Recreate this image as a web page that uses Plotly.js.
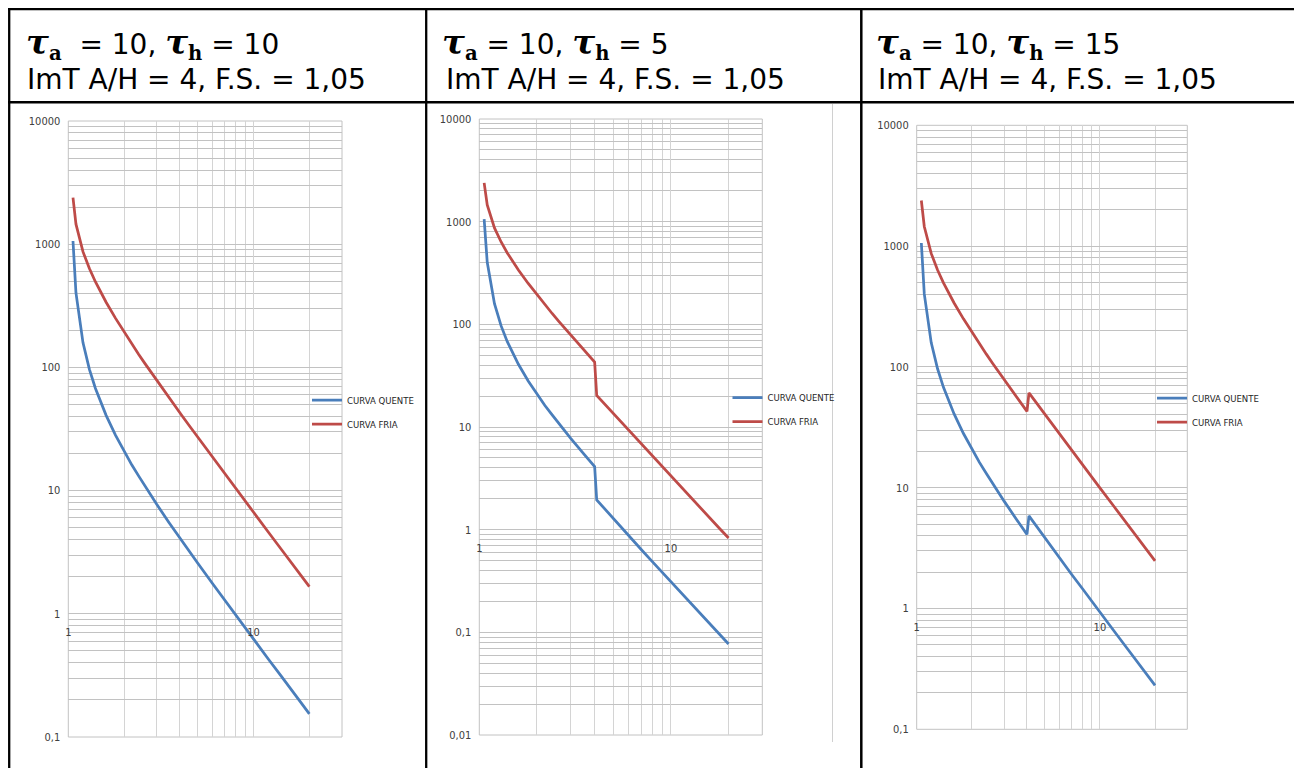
<!DOCTYPE html>
<html><head><meta charset="utf-8">
<script src="https://cdn.plot.ly/plotly-3.0.1.min.js"></script>
<style>html,body{margin:0;padding:0;background:#fff}#chart{width:1294px;height:768px}</style>
</head><body><div id="chart"></div>
<script>
// ---- data ----
const current = [1.06,1.1,1.2,1.3,1.4,1.5,1.6,1.8,2,2.2,2.4,2.6,2.8,3,3.5,4,4.1,4.5,5,6,7,8,9,10,12,14,16,18,20];

// panel 1: tau_a = 10, tau_h = 10
const hotT10  = [1061,402,159,96.5,67.7,51.3,40.8,28.1,20.9,16.2,13.1,10.8,9.06,7.74,5.49,4.11,3.90,3.20,2.57,1.76,1.28,0.977,0.769,0.622,0.430,0.316,0.241,0.191,0.154];
const coldT10 = [2385,1453,870,634,496,404,338,250,193.5,155,127.5,106.8,90.9,78.4,56.6,42.8,40.7,33.6,27.1,18.7,13.7,10.4,8.22,6.65,4.61,3.39,2.59,2.05,1.66];
// panel 2: tau_a = 10, tau_h = 5
const hotT5   = [1061,402,159,96.5,67.7,51.3,40.8,28.1,20.9,16.2,13.1,10.8,9.06,7.74,5.49,4.11,1.95,1.60,1.28,0.880,0.641,0.488,0.385,0.311,0.215,0.158,0.121,0.095,0.077];
const coldT5  = [2385,1453,870,634,496,404,338,250,193.5,155,127.5,106.8,90.9,78.4,56.6,42.8,20.3,16.8,13.5,9.33,6.83,5.21,4.11,3.33,2.31,1.69,1.30,1.02,0.83];
// panel 3: tau_a = 10, tau_h = 15
const hotT15  = [1061,402,159,96.5,67.7,51.3,40.8,28.1,20.9,16.2,13.1,10.8,9.06,7.74,5.49,4.11,5.85,4.80,3.85,2.64,1.92,1.47,1.15,0.93,0.645,0.473,0.362,0.286,0.231];
const coldT15 = [2385,1453,870,634,496,404,338,250,193.5,155,127.5,106.8,90.9,78.4,56.6,42.8,61.0,50.4,40.6,28.0,20.5,15.6,12.3,9.98,6.92,5.08,3.88,3.07,2.48];

const seriesNames = ['CURVA QUENTE','CURVA FRIA'];
const seriesColors = ['#4A7EBB','#BE4B48'];

const xTickVals = [1,10];
const xTickText = ['1','10'];
const xMinorVals = [2,3,4,5,6,7,8,9,20,30];
const yDecadesA = [0.1,1,10,100,1000,10000];
const yDecadeTextA = ['0,1','1','10','100','1000','10000'];
const yDecadesB = [0.01,0.1,1,10,100,1000,10000];
const yDecadeTextB = ['0,01','0,1','1','10','100','1000','10000'];

const tauA = ['10','10','10'];
const tauH = ['10','5','15'];
const headerLine2 = 'ImT A/H = 4, F.S. = 1,05';

// ---- layout helpers ----
const W = 1294, H = 768;
const px = v => v / W;
const py = v => 1 - v / H;

function yMinor(decades) {
  const vals = [];
  decades.slice(0, -1).forEach(d => { for (let m = 2; m <= 9; m++) vals.push(d * m); });
  return vals;
}

const panels = [
  {hot: hotT10, cold: coldT10, dec: yDecadesA, decText: yDecadeTextA, xd: [68.3, 342], yd: [121, 737], yr: [-1, 4],
   legX: 347, legY: 395.5, t1: [25, 44], t2: [26, 80], extra: '\u00a0'},
  {hot: hotT5, cold: coldT5, dec: yDecadesB, decText: yDecadeTextB, xd: [479.3, 762.3], yd: [119, 735], yr: [-2, 4],
   legX: 767.5, legY: 393, t1: [441, 44], t2: [444.5, 80], extra: ''},
  {hot: hotT15, cold: coldT15, dec: yDecadesA, decText: yDecadeTextA, xd: [916.7, 1187.3], yd: [125.3, 729.3], yr: [-1, 4],
   legX: 1192, legY: 393.5, t1: [875, 44], t2: [876.5, 80], extra: ''}
];

const tickFont = {family: 'Liberation Sans Narrow, Arial Narrow, DejaVu Sans Condensed, sans-serif', size: 11, color: '#404040'};
const legFont = {family: 'Liberation Sans Narrow, Arial Narrow, DejaVu Sans Condensed, sans-serif', size: 9.5, color: '#262626'};

const data = [];
const layout = {
  width: W, height: H,
  margin: {l: 0, r: 0, t: 0, b: 0},
  paper_bgcolor: '#ffffff', plot_bgcolor: 'rgba(0,0,0,0)',
  showlegend: true,
  annotations: [], shapes: []
};

const tauSpan = '<span style="font-family:DejaVu Serif;font-size:34px"><b><i>τ</i></b></span>';
const subSpan = s => '<sub><span style="font-family:DejaVu Serif"><b>' + s + '</b></span></sub>';

panels.forEach((p, i) => {
  const s = i === 0 ? '' : String(i + 1);
  const xd = [px(p.xd[0]), px(p.xd[1])];
  const yd = [py(p.yd[1]), py(p.yd[0])];
  // position of the horizontal axis: where y = 1 sits on the log scale
  const frac = (0 - p.yr[0]) / (p.yr[1] - p.yr[0]);
  const pos = yd[0] + frac * (yd[1] - yd[0]);

  layout['xaxis' + s] = {
    type: 'log', domain: xd, range: [0, Math.log10(30)], anchor: 'free', position: pos,
    tickmode: 'array', tickvals: xTickVals, ticktext: xTickText,
    showgrid: true, gridcolor: '#D4D4D4', gridwidth: 1, zeroline: false, showline: false,
    minor: {tickmode: 'array', tickvals: xMinorVals, showgrid: true, gridcolor: '#D4D4D4', gridwidth: 1, ticks: ''},
    ticks: '', tickfont: tickFont, ticklabelstandoff: 10, fixedrange: true
  };
  layout['yaxis' + s] = {
    type: 'log', domain: yd, range: p.yr, anchor: 'x' + s,
    tickmode: 'array', tickvals: p.dec, ticktext: p.decText,
    showgrid: true, gridcolor: '#C2C2C2', gridwidth: 1, zeroline: false, showline: false,
    minor: {tickmode: 'array', tickvals: yMinor(p.dec), showgrid: true, gridcolor: '#C2C2C2', gridwidth: 1, ticks: ''},
    ticks: '', tickfont: tickFont, ticklabelstandoff: 7, fixedrange: true
  };
  // plot border
  layout.shapes.push({type: 'rect', xref: 'x' + s + ' domain', yref: 'y' + s + ' domain', x0: 0, x1: 1, y0: 0, y1: 1,
    line: {color: '#C2C2C2', width: 1}, layer: 'below'});

  const legName = i === 0 ? 'legend' : 'legend' + (i + 1);
  [p.hot, p.cold].forEach((ys, k) => {
    data.push({
      type: 'scatter', mode: 'lines', x: current, y: ys,
      xaxis: 'x' + s, yaxis: 'y' + s,
      name: seriesNames[k], legend: legName, legendgroup: 'g' + i + k,
      line: {color: seriesColors[k], width: 2.75}, hoverinfo: 'skip'
    });
  });
  layout[legName] = {
    x: px(p.legX - 40), y: py(p.legY - 10), xanchor: 'left', yanchor: 'top',
    bgcolor: 'rgba(0,0,0,0)', borderwidth: 0, font: legFont,
    traceorder: 'grouped', tracegroupgap: 5
  };

  // header text
  layout.annotations.push({
    xref: 'paper', yref: 'paper', x: px(p.t1[0]), y: py(p.t1[1]), xanchor: 'left', yanchor: 'middle',
    showarrow: false, align: 'left', borderpad: 0,
    font: {family: 'DejaVu Sans, Verdana, sans-serif', size: 28, color: '#000'},
    text: tauSpan + subSpan('a') + p.extra + ' = ' + tauA[i] + ', ' + tauSpan + subSpan('h') + ' = ' + tauH[i]
  });
  layout.annotations.push({
    xref: 'paper', yref: 'paper', x: px(p.t2[0]), y: py(p.t2[1]), xanchor: 'left', yanchor: 'middle',
    showarrow: false, align: 'left', borderpad: 0,
    font: {family: 'DejaVu Sans, Verdana, sans-serif', size: 28, color: '#000'},
    text: headerLine2
  });
});

// table rules
const rule = (x0, y0, x1, y1, w, c) => layout.shapes.push({type: 'line', xref: 'paper', yref: 'paper',
  x0: px(x0), y0: py(y0), x1: px(x1), y1: py(y1), line: {color: c || '#000', width: w}});
rule(8, 9.2, 1294, 9.2, 2.3);
rule(8, 102.3, 1294, 102.3, 2.5);
rule(9.2, 8, 9.2, 768, 2.3);
rule(426.2, 8, 426.2, 768, 2.3);
rule(861.3, 8, 861.3, 768, 2.5);
rule(832.5, 104, 832.5, 742, 1, '#D0D0D0');

Plotly.newPlot('chart', data, layout, {displayModeBar: false, staticPlot: true});
</script>
</body></html>
